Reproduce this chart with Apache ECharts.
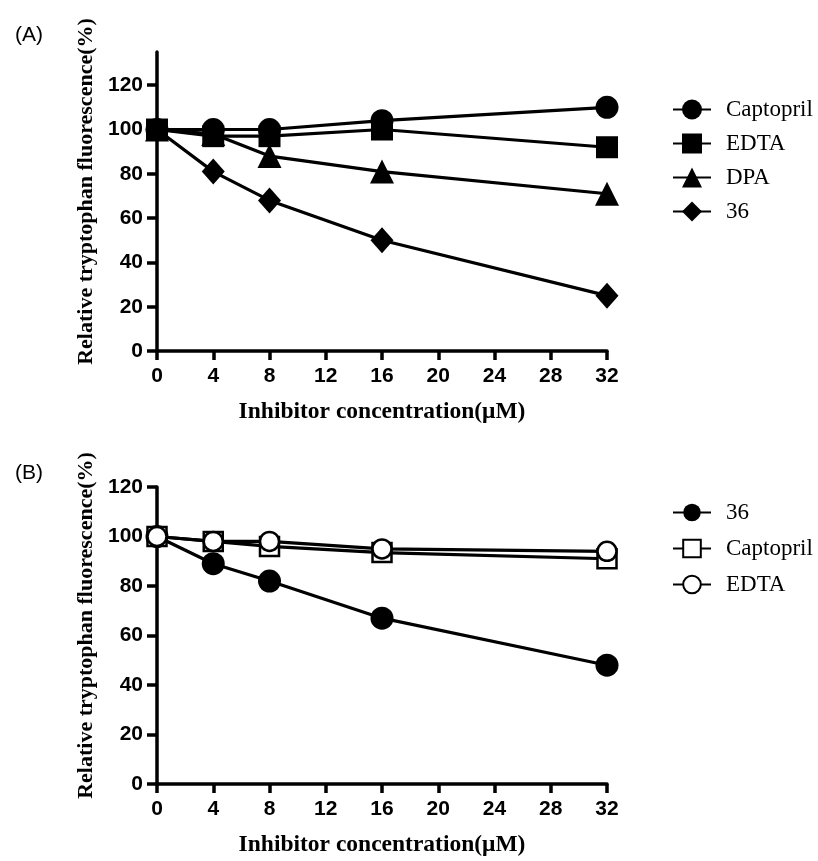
<!DOCTYPE html>
<html>
<head>
<meta charset="utf-8">
<script src="https://cdn.jsdelivr.net/npm/echarts@6/dist/echarts.min.js"></script>
<style>html,body{margin:0;padding:0;background:#fff;}#c{width:818px;height:861px;}</style>
</head>
<body>
<div id="c"></div>
<script>
// ---- data ----
var concentrations = [0, 4, 8, 16, 32];
var xTicks = [0, 4, 8, 12, 16, 20, 24, 28, 32];
var yTicks = [0, 20, 40, 60, 80, 100, 120];

// Panel A
var aCaptopril = [100, 100, 100, 104, 110];
var aEDTA      = [100, 97, 97, 100, 92];
var aDPA       = [100, 98, 88, 81, 71];
var a36        = [100, 81, 68, 50, 25];

// Panel B
var b36        = [100, 89, 82, 67, 48];
var bCaptopril = [100, 98, 96, 93.5, 91];
var bEDTA      = [100, 98, 98, 95, 94];

var xName = 'Inhibitor concentration(\u03bcM)';
var yName = 'Relative tryptophan fluorescence(%)';

function pairs(vals) { return concentrations.map(function (c, i) { return [c, vals[i]]; }); }

var tickFont = { fontFamily: 'Liberation Sans', fontWeight: 'bold', fontSize: 21, color: '#000' };
var xNameFont = { fontFamily: 'Liberation Serif', fontWeight: 'bold', fontSize: 23.5, color: '#000' };
var yNameFont = { fontFamily: 'Liberation Serif', fontWeight: 'bold', fontSize: 22, color: '#000', padding: [0, 0, 0, 20] };

function xAxisDef(gi) {
  return {
    type: 'value', gridIndex: gi, min: 0, max: 32, interval: 4,
    name: xName, nameLocation: 'middle', nameGap: 49, nameTextStyle: xNameFont,
    axisLine: { show: true, lineStyle: { color: '#000', width: 3.5 } },
    axisTick: { show: true, length: 9, lineStyle: { color: '#000', width: 3.5 }, customValues: xTicks },
    axisLabel: Object.assign({ margin: 15, customValues: xTicks }, tickFont),
    splitLine: { show: false }
  };
}
function yAxisDef(gi, max) {
  return {
    type: 'value', gridIndex: gi, min: 0, max: max, interval: 20,
    name: yName, nameLocation: 'middle', nameGap: 60, nameTextStyle: yNameFont,
    axisLine: { show: true, lineStyle: { color: '#000', width: 3.5 } },
    axisTick: { show: true, length: 10, lineStyle: { color: '#000', width: 3.5 }, customValues: yTicks },
    axisLabel: Object.assign({ margin: 14, customValues: yTicks }, tickFont),
    splitLine: { show: false }
  };
}

function lineSeries(name, vals, gi, symbol, size, filled) {
  return {
    type: 'line', name: name, xAxisIndex: gi, yAxisIndex: gi, data: pairs(vals),
    symbol: symbol, symbolSize: size, showAllSymbol: true,
    lineStyle: { color: '#000', width: 3.2 },
    itemStyle: filled ? { color: '#000', borderWidth: 0 } : { color: '#fff', borderColor: '#000', borderWidth: 2.5, opacity: 1 },
    emphasis: { disabled: true },
    animation: false
  };
}

var legendText = { fontFamily: 'Liberation Serif', fontSize: 23, color: '#000', padding: [0, 0, 0, 10] };

var option = {
  backgroundColor: '#fff',
  animation: false,
  title: [
    { text: '(A)', left: 10, top: 20, textStyle: { fontFamily: 'Liberation Sans', fontWeight: 'normal', fontSize: 21, color: '#000' } },
    { text: '(B)', left: 10, top: 458, textStyle: { fontFamily: 'Liberation Sans', fontWeight: 'normal', fontSize: 21, color: '#000' } }
  ],
  legend: [
    { orient: 'vertical', left: 667, top: 93, itemWidth: 38, itemHeight: 25, itemGap: 11,
      textStyle: legendText, data: ['Captopril', 'EDTA', 'DPA', '36'], selectedMode: false },
    { orient: 'vertical', left: 667, top: 496, itemWidth: 38, itemHeight: 22, itemGap: 13,
      textStyle: legendText, data: ['36 ', 'Captopril ', 'EDTA '], selectedMode: false }
  ],
  grid: [
    { left: 157, top: 52, width: 450, height: 299 },
    { left: 157, top: 487, width: 450, height: 297 }
  ],
  xAxis: [xAxisDef(0), xAxisDef(1)],
  yAxis: [yAxisDef(0, 135), yAxisDef(1, 120)],
  series: [
    lineSeries('Captopril', aCaptopril, 0, 'circle', 23, true),
    lineSeries('EDTA', aEDTA, 0, 'rect', 22, true),
    lineSeries('DPA', aDPA, 0, 'triangle', 24, true),
    lineSeries('36', a36, 0, 'diamond', [23, 26], true),
    lineSeries('36 ', b36, 1, 'circle', 23, true),
    lineSeries('Captopril ', bCaptopril, 1, 'rect', 19, false),
    lineSeries('EDTA ', bEDTA, 1, 'circle', 19, false)
  ]
};

var chart = echarts.init(document.getElementById('c'), null, { renderer: 'canvas' });
chart.setOption(option);
</script>
</body>
</html>
